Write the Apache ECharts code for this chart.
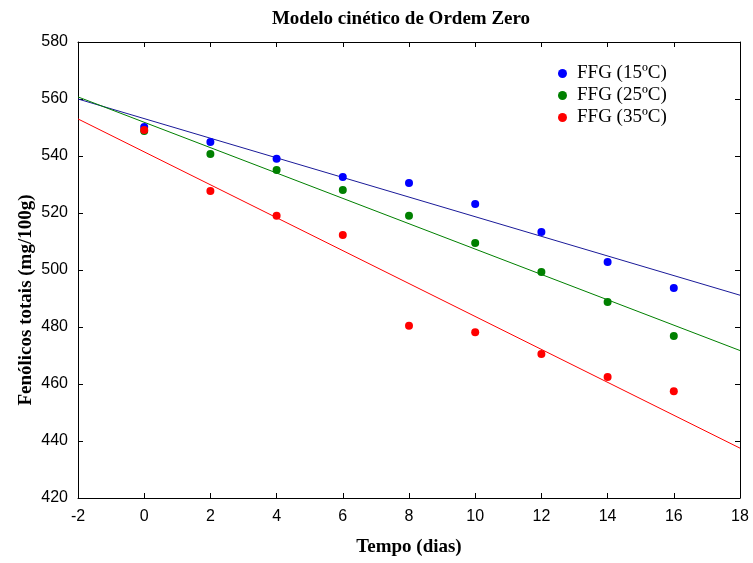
<!DOCTYPE html>
<html>
<head>
<meta charset="utf-8">
<script src="https://cdn.jsdelivr.net/npm/echarts@6/dist/echarts.min.js"></script>
<style>
  html, body { margin: 0; padding: 0; background: #fff; }
  #chart { width: 753px; height: 563px; }
</style>
</head>
<body>
<div id="chart"></div>
<script>
// dias
var tempo = [0, 2, 4, 6, 8, 10, 12, 14, 16];
// fenólicos totais (mg/100g)
var ffg15 = [550.2, 544.9, 539.0, 532.6, 530.5, 523.2, 513.3, 502.8, 493.7];
var ffg25 = [548.8, 540.7, 535.1, 528.1, 519.0, 509.5, 499.3, 488.8, 476.8];
var ffg35 = [549.1, 527.7, 519.0, 512.3, 480.4, 478.2, 470.5, 462.5, 457.5];
var nomes = ['FFG (15ºC)', 'FFG (25ºC)', 'FFG (35ºC)'];
var xRange = [-2, 18];

var serif = '"Liberation Serif", "Times New Roman", serif';
var sans = '"Liberation Sans", Arial, sans-serif';

function pares(ys) {
    return tempo.map(function (t, i) { return [t, ys[i]]; });
}

// ajuste linear (mínimos quadrados) de ordem zero
function ajuste(ys) {
    var n = tempo.length, sx = 0, sy = 0, sxx = 0, sxy = 0;
    for (var i = 0; i < n; i++) {
        sx += tempo[i]; sy += ys[i];
        sxx += tempo[i] * tempo[i]; sxy += tempo[i] * ys[i];
    }
    var b = (n * sxy - sx * sy) / (n * sxx - sx * sx);
    var a = (sy - b * sx) / n;
    return xRange.map(function (x) { return [x, a + b * x]; });
}

var myChart = echarts.init(document.getElementById('chart'));

var eixo = {
    axisLine: { show: true, onZero: false, lineStyle: { color: '#000', width: 1 } },
    axisTick: { show: true, inside: true, length: 5, lineStyle: { color: '#000' } },
    splitLine: { show: false }
};

var option = {
    backgroundColor: '#fff',
    animation: false,
    title: {
        text: 'Modelo cinético de Ordem Zero',
        left: 396,
        textAlign: 'center',
        top: 5,
        textStyle: { fontFamily: serif, fontWeight: 'bold', fontSize: 19, color: '#000' }
    },
    legend: {
        data: nomes,
        orient: 'vertical',
        left: 553,
        top: 59,
        icon: 'circle',
        itemWidth: 9,
        itemHeight: 9,
        itemGap: 3,
        textStyle: { fontFamily: serif, fontSize: 19, color: '#000', padding: [0, 0, 0, 5] }
    },
    grid: { left: 78, right: 13, top: 42, bottom: 65 },
    xAxis: [
        Object.assign({}, eixo, {
            type: 'value', min: -2, max: 18, interval: 2,
            name: 'Tempo (dias)', nameLocation: 'middle', nameGap: 40,
            nameTextStyle: { fontFamily: serif, fontWeight: 'bold', fontSize: 19, color: '#000' },
            axisLabel: { fontFamily: sans, fontSize: 16, color: '#000', margin: 11 }
        }),
        Object.assign({}, eixo, {
            type: 'value', min: -2, max: 18, interval: 2, position: 'top',
            axisLabel: { show: false }
        })
    ],
    yAxis: [
        Object.assign({}, eixo, {
            type: 'value', min: 420, max: 580, interval: 20,
            name: 'Fenólicos totais (mg/100g)', nameLocation: 'middle', nameGap: 42,
            nameMoveOverlap: false,
            nameTextStyle: { fontFamily: serif, fontWeight: 'bold', fontSize: 19, color: '#000', padding: [0, 60, 0, 0] },
            axisLabel: { fontFamily: sans, fontSize: 16, color: '#000', margin: 10 }
        }),
        Object.assign({}, eixo, {
            type: 'value', min: 420, max: 580, interval: 20, position: 'right',
            axisLabel: { show: false }
        })
    ],
    series: [
        { type: 'line', data: ajuste(ffg15), symbol: 'none', lineStyle: { color: '#1a1a99', width: 1 }, z: 1, silent: true },
        { type: 'line', data: ajuste(ffg25), symbol: 'none', lineStyle: { color: '#008000', width: 1 }, z: 1, silent: true },
        { type: 'line', data: ajuste(ffg35), symbol: 'none', lineStyle: { color: '#ff0000', width: 1 }, z: 1, silent: true },
        { name: nomes[0], type: 'scatter', data: pares(ffg15), symbolSize: 8, itemStyle: { color: '#0000ff', opacity: 1 }, z: 3 },
        { name: nomes[1], type: 'scatter', data: pares(ffg25), symbolSize: 8, itemStyle: { color: '#008000', opacity: 1 }, z: 3 },
        { name: nomes[2], type: 'scatter', data: pares(ffg35), symbolSize: 8, itemStyle: { color: '#ff0000', opacity: 1 }, z: 4 }
    ]
};

myChart.setOption(option);
</script>
</body>
</html>
